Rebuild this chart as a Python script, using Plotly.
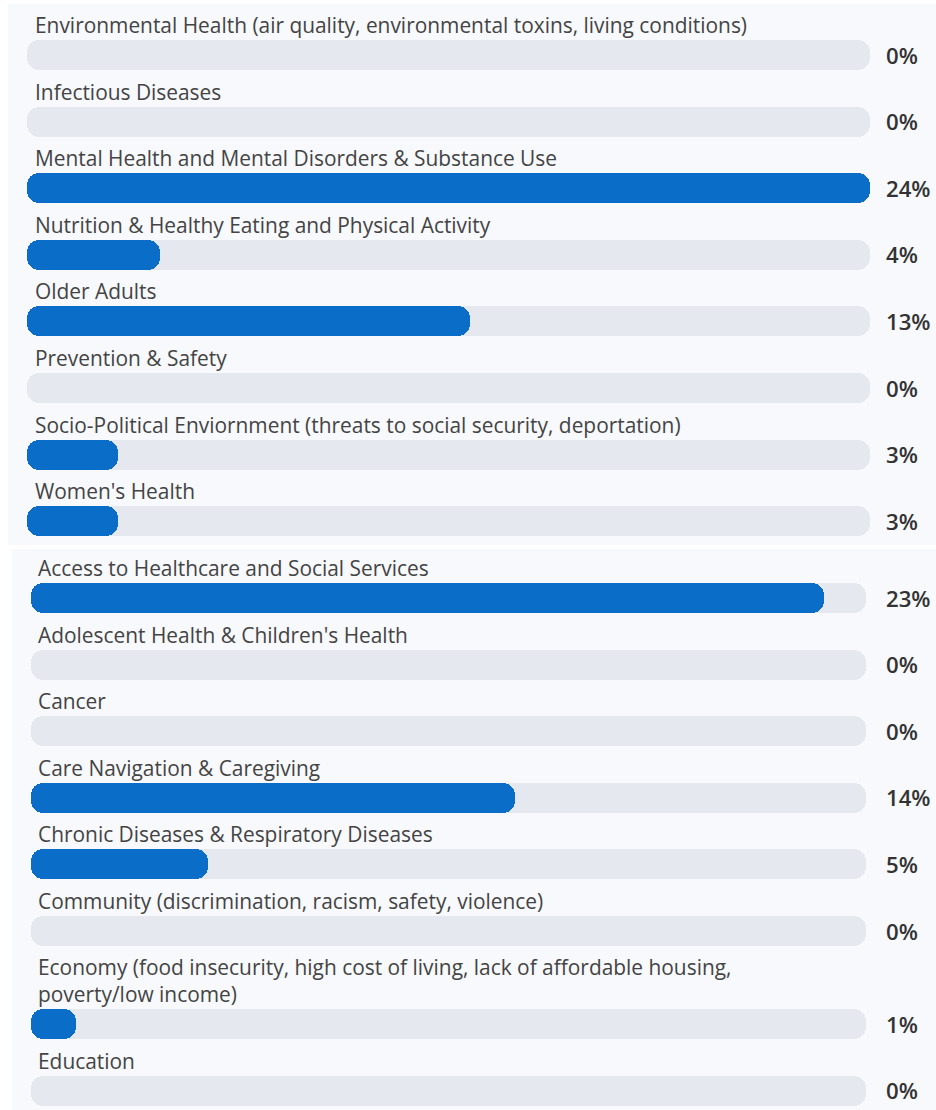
import plotly.graph_objects as go

# ---- data ----
top_categories = [
    "Environmental Health (air quality, environmental toxins, living conditions)",
    "Infectious Diseases",
    "Mental Health and Mental Disorders & Substance Use",
    "Nutrition & Healthy Eating and Physical Activity",
    "Older Adults",
    "Prevention & Safety",
    "Socio-Political Enviornment (threats to social security, deportation)",
    "Women's Health",
]
top_values = [0, 0, 24.0, 3.8, 12.6, 0, 2.6, 2.6]

bottom_categories = [
    "Access to Healthcare and Social Services",
    "Adolescent Health & Children's Health",
    "Cancer",
    "Care Navigation & Caregiving",
    "Chronic Diseases & Respiratory Diseases",
    "Community (discrimination, racism, safety, violence)",
    "Economy (food insecurity, high cost of living, lack of affordable housing,\npoverty/low income)",
    "Education",
]
bottom_values = [22.8, 0, 0, 13.9, 5.1, 0, 1.3, 0]

SCALE_MAX = max(top_values + bottom_values)

# ---- style / layout (page pixels) ----
W, H = 936, 1110
BLUE = "#0a6ec8"
TRACK = "#e5e8ee"
PANEL_BG = "#f7f9fc"
LABEL_COLOR = "#444444"
PCT_COLOR = "#333333"
FONT = "Open Sans"
LABEL_SIZE = 20.9
PCT_SIZE = 22.2
BAR_H = 30
RADIUS = 12
PITCH = 66.6
LINE_H = 26.5


def px(x):
    return x / W


def py(y):
    return 1 - y / H


panels = [
    dict(cats=top_categories, vals=top_values, first=55, top=0, bottom=545,
         x0=27, x1=870, label_x=33, xa="x", ya="y"),
    dict(cats=bottom_categories, vals=bottom_values, first=598, top=548, bottom=H,
         x0=31, x1=866, label_x=36, xa="x2", ya="y2"),
]

fig = go.Figure()
annotations = []
shapes = [
    dict(type="rect", xref="paper", yref="paper", x0=px(8), x1=1, y0=py(545), y1=py(4),
         fillcolor=PANEL_BG, line=dict(width=0), layer="below"),
    dict(type="rect", xref="paper", yref="paper", x0=px(12), x1=1, y0=0, y1=py(549),
         fillcolor=PANEL_BG, line=dict(width=0), layer="below"),
]

layout_axes = {}
for k, p in enumerate(panels):
    n = len(p["cats"])
    centers = []
    extra = 0
    for i, c in enumerate(p["cats"]):
        extra += c.count("\n") * LINE_H
        centers.append(p["first"] + i * PITCH + extra)
    vals = p["vals"]
    common = dict(orientation="h", y=centers, width=BAR_H, xaxis=p["xa"], yaxis=p["ya"],
                  hoverinfo="skip", showlegend=False)
    mk = lambda col: dict(color=col, cornerradius=RADIUS, line=dict(width=0))
    # track: right-rounded and left-rounded halves
    fig.add_trace(go.Bar(x=[SCALE_MAX] * n, base=[0] * n, marker=mk(TRACK), **common))
    fig.add_trace(go.Bar(x=[-SCALE_MAX] * n, base=[SCALE_MAX] * n, marker=mk(TRACK), **common))
    # value bar: rounded at the left end
    fig.add_trace(go.Bar(x=[-v if v > 0 else None for v in vals], base=vals, marker=mk(BLUE), **common))
    # full-length bars are also rounded on the right
    fig.add_trace(go.Bar(x=[v if v >= SCALE_MAX else None for v in vals], base=[0] * n,
                         marker=mk(BLUE), **common))

    for c, v, yc in zip(p["cats"], vals, centers):
        annotations.append(dict(
            text=c.replace("\n", "<br>"), x=px(p["label_x"]), xref="paper", xanchor="left",
            y=yc - 14, yref=p["ya"], yanchor="bottom", showarrow=False, align="left",
            font=dict(family=FONT, size=LABEL_SIZE, color=LABEL_COLOR)))
        annotations.append(dict(
            text=f"{round(v)}%", x=px(884), xref="paper", xanchor="left",
            y=yc, yref=p["ya"], yanchor="middle", showarrow=False,
            font=dict(family=FONT, size=PCT_SIZE, color=PCT_COLOR, weight=600)))

    sfx = "" if k == 0 else "2"
    layout_axes["xaxis" + sfx] = dict(domain=[px(p["x0"]), px(p["x1"])], range=[0, SCALE_MAX],
                                      visible=False, fixedrange=True, anchor="y" + sfx)
    layout_axes["yaxis" + sfx] = dict(domain=[py(p["bottom"]), py(p["top"])],
                                      range=[p["bottom"], p["top"]], visible=False,
                                      fixedrange=True, anchor="x" + sfx)

fig.update_layout(
    width=W, height=H, autosize=False,
    margin=dict(l=0, r=0, t=0, b=0),
    paper_bgcolor="white", plot_bgcolor="rgba(0,0,0,0)",
    barmode="overlay", bargap=0,
    annotations=annotations, shapes=shapes,
    **layout_axes,
)

fig.write_html("out.html", config=dict(displayModeBar=False),
               post_script="document.body.style.margin='0px';")
